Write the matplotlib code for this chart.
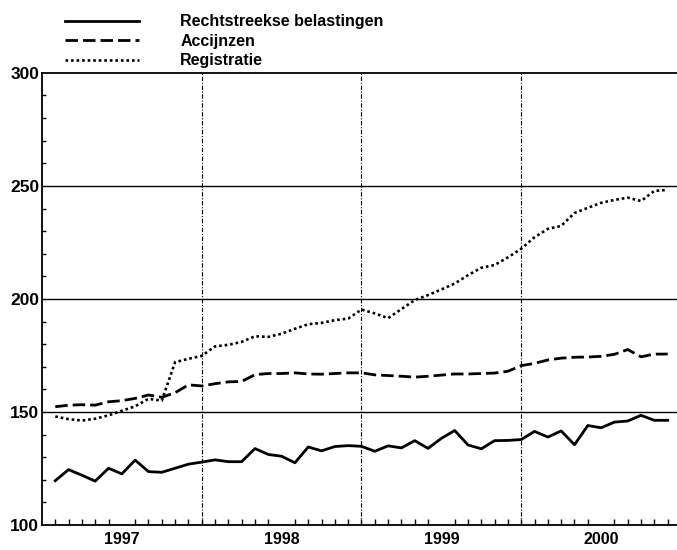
#!/usr/bin/env python3

import matplotlib
matplotlib.use("Agg")
import matplotlib.pyplot as plt
from matplotlib.ticker import FixedLocator, MultipleLocator


# maandindex: 1 = januari 1997 ... 47 = november 2000
MONTHS = list(range(1, 48))

RECHTSTREEKS = [
    119.6, 124.5, 122.0, 119.4, 125.1, 122.6, 128.7, 123.6, 123.3, 125.1, 126.9, 127.8,
    128.8, 128.0, 128.0, 133.8, 131.2, 130.4, 127.5, 134.5, 132.8, 134.7, 135.1, 134.8,
    132.6, 135.0, 134.1, 137.3, 133.9, 138.3, 141.8, 135.4, 133.7, 137.3, 137.4, 137.8,
    141.4, 138.9, 141.6, 135.5, 144.0, 143.0, 145.5, 146.0, 148.5, 146.3, 146.3,
]

ACCIJNZEN = [
    152.3, 153.0, 153.2, 153.0, 154.5, 155.0, 156.0, 157.5, 156.5, 158.5, 162.0, 161.5,
    162.5, 163.3, 163.5, 166.5, 167.0, 167.0, 167.3, 166.8, 166.7, 167.0, 167.3, 167.3,
    166.4, 166.1, 165.8, 165.4, 165.8, 166.3, 166.8, 166.8, 167.0, 167.2, 168.0, 170.5,
    171.5, 173.0, 173.8, 174.2, 174.3, 174.6, 175.5, 177.6, 174.4, 175.6, 175.6,
]

REGISTRATIE = [
    148.0, 146.8, 146.2, 147.0, 148.5, 150.5, 152.5, 155.8, 155.0, 172.0, 173.5, 174.8,
    179.0, 179.7, 181.0, 183.5, 183.2, 184.6, 186.8, 188.8, 189.4, 190.6, 191.3, 195.3,
    193.6, 191.5, 195.5, 199.5, 201.7, 204.2, 206.8, 210.5, 213.8, 215.0, 218.4, 222.2,
    227.3, 231.0, 232.3, 238.0, 240.3, 242.5, 243.8, 244.8, 243.3, 247.8, 248.2,
]

SERIES_LABELS = ["Rechtstreekse belastingen", "Accijnzen", "Registratie"]
YEARS = ["1997", "1998", "1999", "2000"]
YEAR_BOUNDS = [12, 24, 36]
Y_TICKS = [100, 150, 200, 250, 300]

FONT = "Liberation Sans"


def draw_series(ax):
    styles = [
        dict(linestyle="-", linewidth=2.0),
        dict(linestyle=(0, (4.5, 1.8)), linewidth=2.0),
        dict(linestyle=(0, (1.0, 1.1)), linewidth=1.9),
    ]
    handles = []
    for values, label, style in zip([RECHTSTREEKS, ACCIJNZEN, REGISTRATIE], SERIES_LABELS, styles):
        line, = ax.plot(MONTHS, values, color="black", label=label, **style)
        handles.append(line)
    return handles


def style_axes(ax):
    ax.set_xlim(0, 47.7)
    ax.set_ylim(100, 300)

    for bound in YEAR_BOUNDS:
        ax.axvline(bound, color="black", linewidth=0.8, linestyle=(0, (4, 1.5, 1, 1.5)), zorder=1)
    for value in Y_TICKS[1:-1]:
        ax.axhline(value, color="black", linewidth=1.0, zorder=1)

    ax.spines["right"].set_visible(False)
    for side in ["left", "top", "bottom"]:
        ax.spines[side].set_linewidth(1.3)

    year_centers = [b - 6 for b in YEAR_BOUNDS] + [YEAR_BOUNDS[-1] + 6]
    ax.xaxis.set_major_locator(FixedLocator(year_centers))
    ax.set_xticklabels(YEARS, fontsize=11.5, fontweight="bold", family=FONT)
    ax.xaxis.set_minor_locator(FixedLocator(MONTHS))
    ax.tick_params(axis="x", which="major", length=0, pad=5)
    ax.tick_params(axis="x", which="minor", direction="in", length=4, width=1.0)

    ax.set_yticks(Y_TICKS)
    ax.set_yticklabels([str(v) for v in Y_TICKS], fontsize=12.5, fontweight="bold", family=FONT)
    ax.yaxis.set_minor_locator(MultipleLocator(10))
    ax.tick_params(axis="y", which="major", direction="in", length=0, pad=2)
    ax.tick_params(axis="y", which="minor", direction="in", length=3, width=1.0)


def main():
    fig = plt.figure(figsize=(6.77, 5.5), dpi=100)
    ax = fig.add_axes([0.062, 0.0455, 0.938, 0.822])

    handles = draw_series(ax)
    style_axes(ax)

    fig.legend(
        handles=handles,
        labels=SERIES_LABELS,
        loc="upper left",
        bbox_to_anchor=(0.075, 1.0),
        frameon=False,
        handlelength=4.6,
        handletextpad=2.6,
        labelspacing=0.28,
        prop={"family": FONT, "size": 11.5, "weight": "bold"},
    )

    fig.savefig("out.png", dpi=100)
    plt.close(fig)


if __name__ == "__main__":
    main()
